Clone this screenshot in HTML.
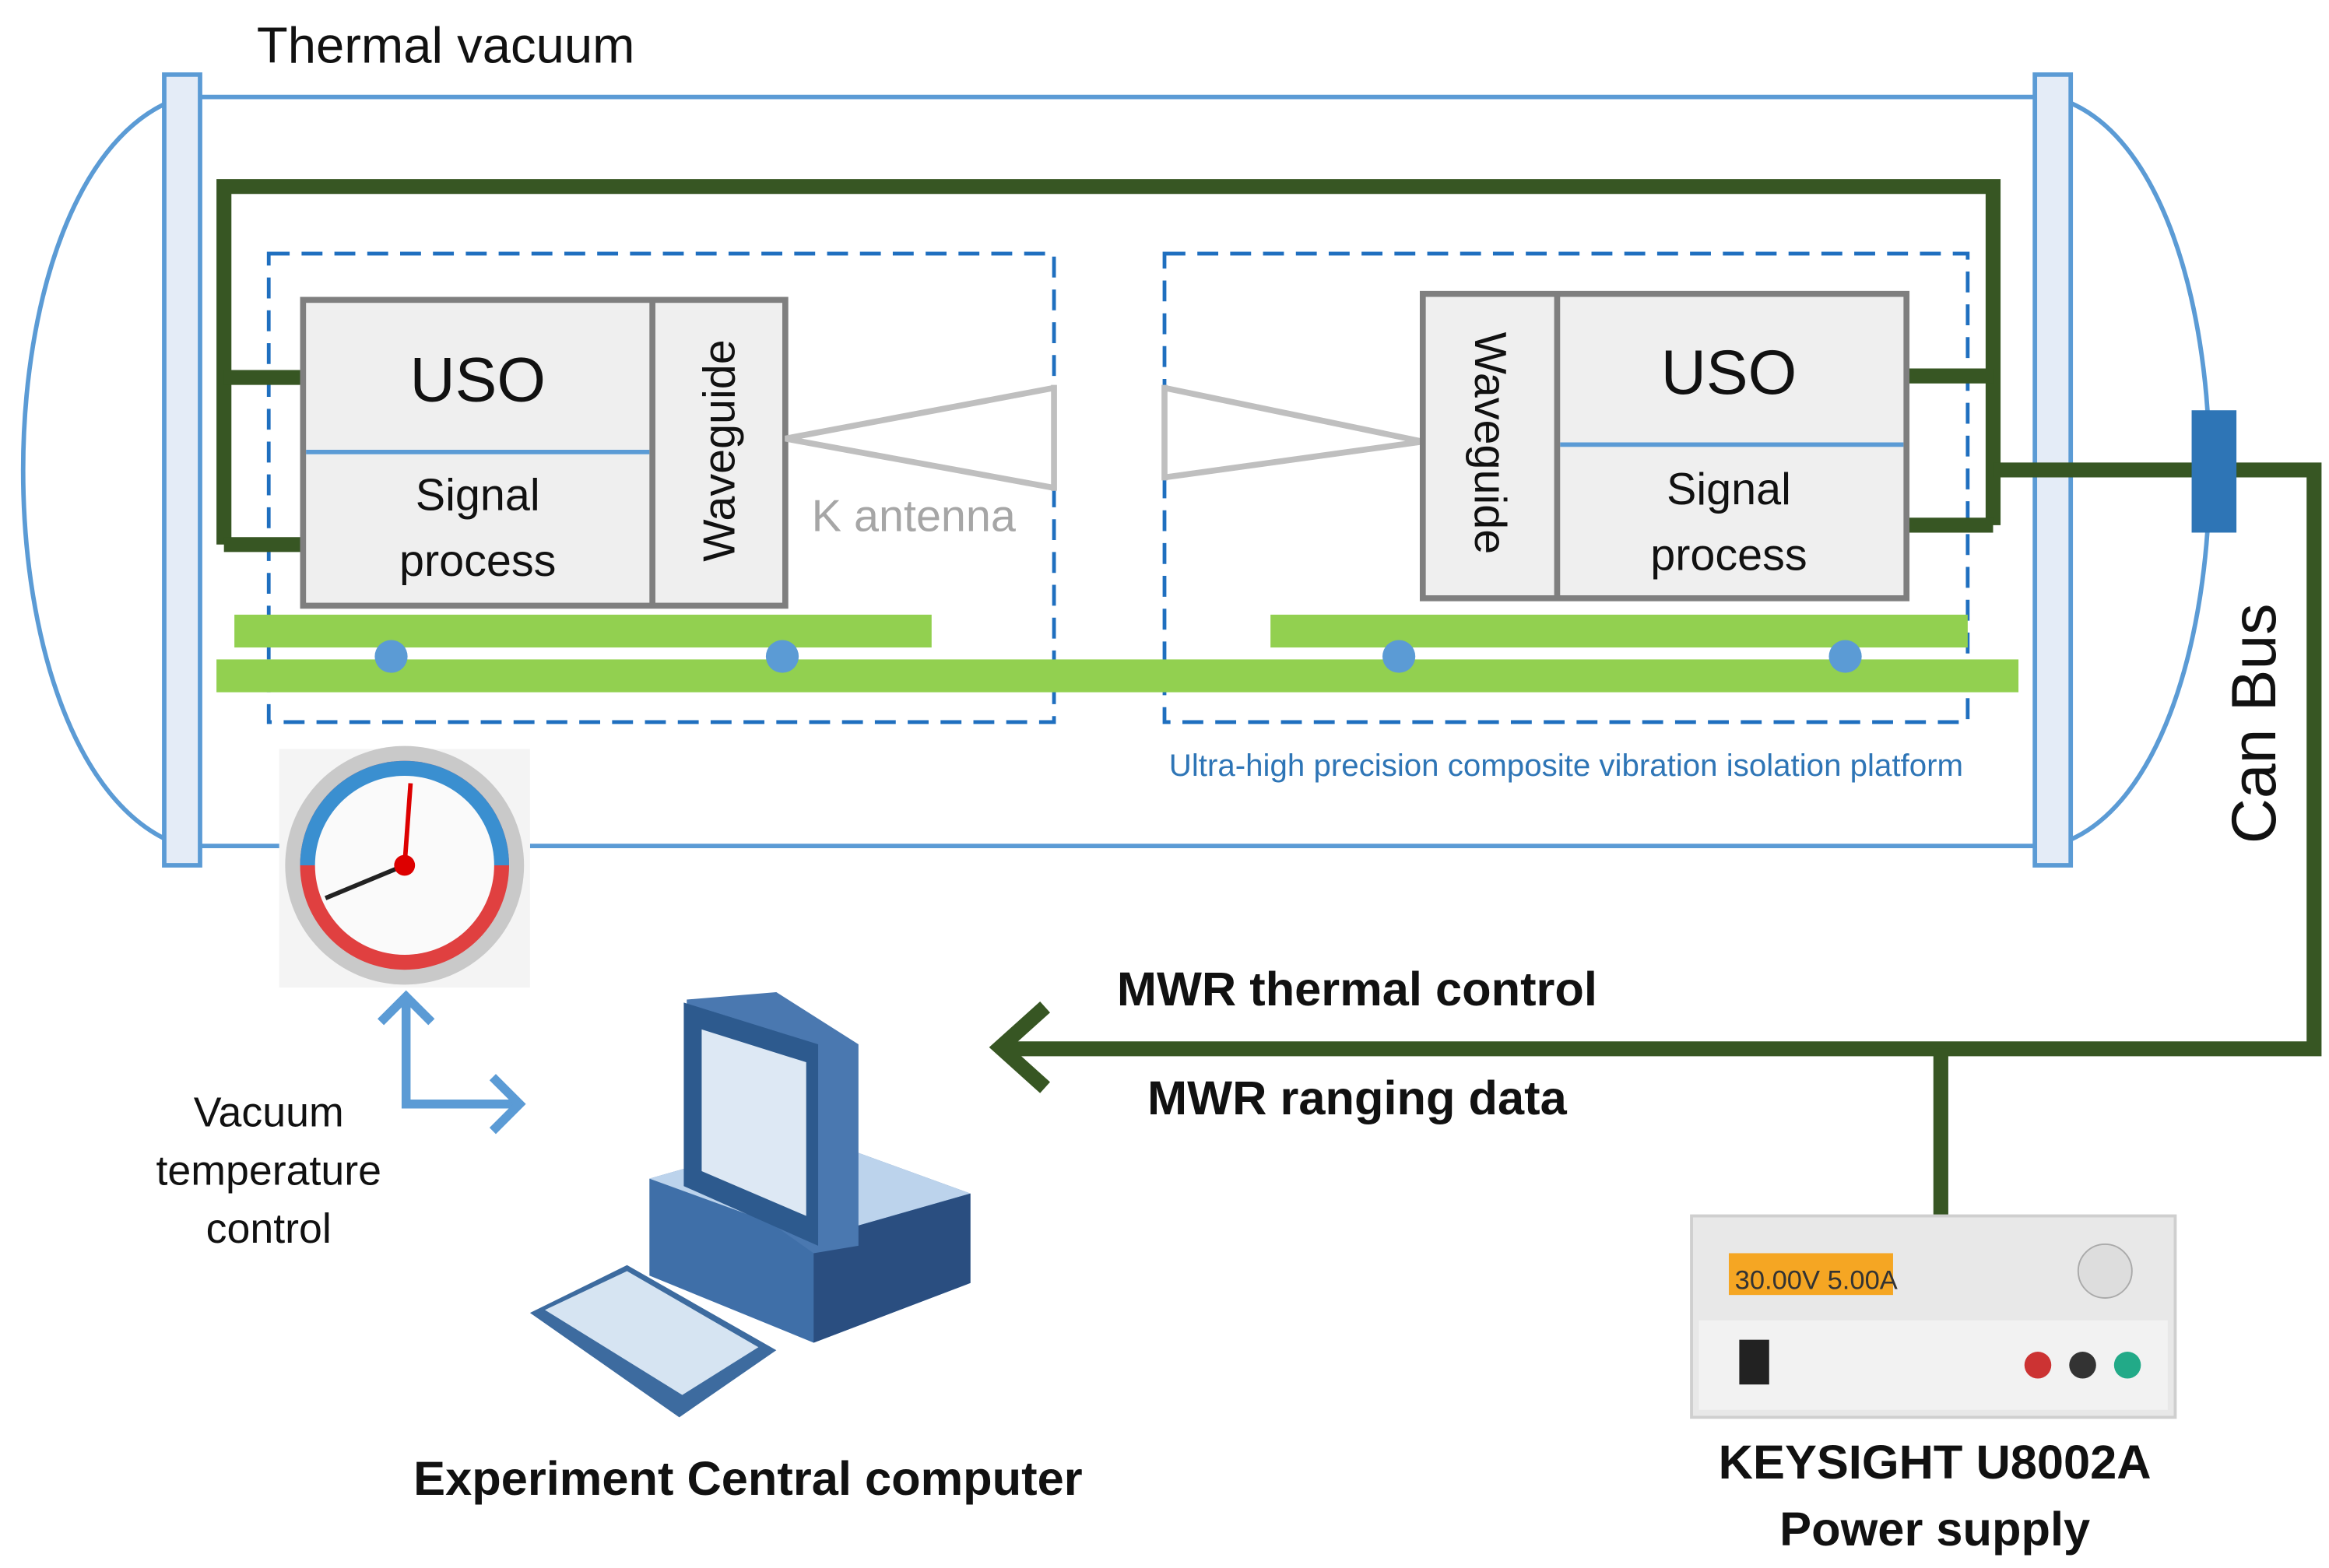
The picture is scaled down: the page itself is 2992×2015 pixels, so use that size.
<!DOCTYPE html>
<html><head><meta charset="utf-8"><style>
html,body{margin:0;padding:0;background:#fff}
svg{display:block}
text{font-family:"Liberation Sans","DejaVu Sans",sans-serif}
</style></head><body>
<svg width="2992" height="2015" viewBox="0 0 1560 1051" preserveAspectRatio="none" xmlns="http://www.w3.org/2000/svg">
<rect width="1560" height="1051" fill="#fff"/>
<text x="172" y="42" font-size="34" fill="#111">Thermal vacuum</text>
<!-- chamber -->
<g fill="none" stroke="#5b9bd5" stroke-width="3">
<line x1="122" y1="65" x2="1375" y2="65"/>
<line x1="355" y1="567" x2="1375" y2="567"/>
<line x1="122" y1="567" x2="190" y2="567"/>
<path d="M122 65 C -20 110, -20 520, 122 567"/>
<path d="M1375 65 C 1515 100, 1515 530, 1375 567"/>
</g>
<rect x="110" y="50" width="24" height="530" fill="#e4ecf7" stroke="#5b9bd5" stroke-width="3"/>
<rect x="1363" y="50" width="24" height="530" fill="#e4ecf7" stroke="#5b9bd5" stroke-width="3"/>
<!-- dashed boxes -->
<g fill="none" stroke="#1f6fbf" stroke-width="2.5" stroke-dasharray="14,8">
<rect x="180" y="170" width="526" height="314"/>
<rect x="780" y="170" width="538" height="314"/>
</g>
<!-- green platforms -->
<rect x="157" y="412" width="467" height="22" fill="#92d050"/>
<rect x="851" y="412" width="467" height="22" fill="#92d050"/>
<rect x="145" y="442" width="1207" height="22" fill="#92d050"/>
<g fill="#5b9bd5"><circle cx="262" cy="440" r="11"/><circle cx="524" cy="440" r="11"/><circle cx="937" cy="440" r="11"/><circle cx="1236" cy="440" r="11"/></g>
<!-- dark green wiring -->
<g fill="none" stroke="#375623" stroke-width="10" stroke-linejoin="miter">
<polyline points="150,365 150,125 1335,125 1335,352"/>
<line x1="150" y1="253" x2="208" y2="253"/>
<line x1="150" y1="365" x2="208" y2="365"/>
<line x1="1273" y1="252" x2="1335" y2="252"/>
<line x1="1273" y1="352" x2="1335" y2="352"/>
<polyline points="1335,315 1550,315 1550,703 672,703"/>
<line x1="1300" y1="703" x2="1300" y2="815"/>
<polyline points="700,675 670,702 700,729"/>
</g>
<rect x="1468" y="275" width="30" height="82" fill="#2e75b6"/>
<!-- left box -->
<rect x="203" y="201" width="323" height="205" fill="#efefef" stroke="#7f7f7f" stroke-width="4"/>
<line x1="437" y1="201" x2="437" y2="406" stroke="#7f7f7f" stroke-width="4"/>
<line x1="205" y1="303" x2="435" y2="303" stroke="#5b9bd5" stroke-width="3"/>
<text x="320" y="269" font-size="42" text-anchor="middle" fill="#111">USO</text>
<text x="320" y="342" font-size="30" text-anchor="middle" fill="#111">Signal</text>
<text x="320" y="386" font-size="30" text-anchor="middle" fill="#111">process</text>
<text transform="translate(492,302) rotate(-90)" font-size="30" text-anchor="middle" fill="#111">Waveguide</text>
<g fill="none" stroke="#bfbfbf" stroke-width="4">
<polyline points="706,260 526,294 706,327"/><line x1="706" y1="258" x2="706" y2="329"/>
<polyline points="780,260 953,296 780,320"/><line x1="780" y1="258" x2="780" y2="322"/>
</g>
<text x="612" y="356" font-size="30" text-anchor="middle" fill="#a6a6a6">K antenna</text>
<!-- right box -->
<rect x="953" y="197" width="324" height="204" fill="#efefef" stroke="#7f7f7f" stroke-width="4"/>
<line x1="1043" y1="197" x2="1043" y2="401" stroke="#7f7f7f" stroke-width="4"/>
<line x1="1045" y1="298" x2="1275" y2="298" stroke="#5b9bd5" stroke-width="3"/>
<text x="1158" y="264" font-size="42" text-anchor="middle" fill="#111">USO</text>
<text x="1158" y="338" font-size="30" text-anchor="middle" fill="#111">Signal</text>
<text x="1158" y="382" font-size="30" text-anchor="middle" fill="#111">process</text>
<text transform="translate(988,297) rotate(90)" font-size="30" text-anchor="middle" fill="#111">Waveguide</text>
<text x="1049" y="520" font-size="21" text-anchor="middle" fill="#2e75b6">Ultra-high precision composite vibration isolation platform</text>
<text transform="translate(1524,485) rotate(-90)" font-size="42" text-anchor="middle" fill="#111">Can Bus</text>
<!-- gauge -->
<rect x="187" y="502" width="168" height="160" fill="#f4f4f4"/>
<circle cx="271" cy="580" r="80" fill="#c9c9c9"/>
<circle cx="271" cy="580" r="70" fill="#e04040"/>
<path d="M201 580 A70 70 0 0 1 341 580 Z" fill="#3a8fd0"/>
<circle cx="271" cy="580" r="60" fill="#fafafa"/>
<line x1="271" y1="580" x2="275" y2="525" stroke="#d00" stroke-width="3"/>
<line x1="271" y1="580" x2="218" y2="602" stroke="#222" stroke-width="3"/>
<circle cx="271" cy="580" r="7" fill="#d00"/>
<!-- blue arrows -->
<g fill="none" stroke="#5b9bd5" stroke-width="6">
<polyline points="272,670 272,740 345,740"/>
<polyline points="255,685 272,668 289,685"/>
<polyline points="330,722 348,740 330,758"/>
</g>
<text x="180" y="755" font-size="28" text-anchor="middle" fill="#111">Vacuum</text>
<text x="180" y="794" font-size="28" text-anchor="middle" fill="#111">temperature</text>
<text x="180" y="833" font-size="28" text-anchor="middle" fill="#111">control</text>
<!-- computer -->
<polygon points="435,790 540,760 650,800 650,860 545,900 435,855" fill="#3f6fa8"/>
<polygon points="435,790 540,760 650,800 545,830" fill="#bcd3ec"/>
<polygon points="545,830 650,800 650,860 545,900" fill="#2a4e80"/>
<polygon points="460,670 520,665 575,700 575,835 545,840 460,780" fill="#4a78b0"/>
<polygon points="458,672 548,700 548,835 458,795" fill="#2d5a8e"/>
<polygon points="470,690 540,712 540,815 470,785" fill="#dde8f4"/>
<polygon points="355,880 420,848 520,905 455,950" fill="#3d6b9f"/>
<polygon points="365,878 420,852 508,903 457,935" fill="#d6e4f2"/>
<text x="501" y="1002" font-size="32" font-weight="bold" text-anchor="middle" fill="#111">Experiment Central computer</text>
<!-- power supply -->
<rect x="1133" y="815" width="324" height="135" fill="#e8e8e8" stroke="#cfcfcf" stroke-width="2"/>
<rect x="1138" y="885" width="314" height="60" fill="#f2f2f2"/>
<rect x="1158" y="840" width="110" height="28" fill="#f5a623"/>
<text x="1162" y="864" font-size="18" fill="#333">30.00V 5.00A</text>
<circle cx="1410" cy="852" r="18" fill="#ddd" stroke="#aaa"/>
<rect x="1165" y="898" width="20" height="30" fill="#222"/>
<circle cx="1365" cy="915" r="9" fill="#c33"/><circle cx="1395" cy="915" r="9" fill="#333"/><circle cx="1425" cy="915" r="9" fill="#2a8"/>
<text x="1296" y="991" font-size="32" font-weight="bold" text-anchor="middle" fill="#111">KEYSIGHT U8002A</text>
<text x="1296" y="1036" font-size="32" font-weight="bold" text-anchor="middle" fill="#111">Power supply</text>
<text x="909" y="674" font-size="32" font-weight="bold" text-anchor="middle" fill="#111">MWR thermal control</text>
<text x="909" y="747" font-size="32" font-weight="bold" text-anchor="middle" fill="#111">MWR ranging data</text>
</svg>
</body></html>
